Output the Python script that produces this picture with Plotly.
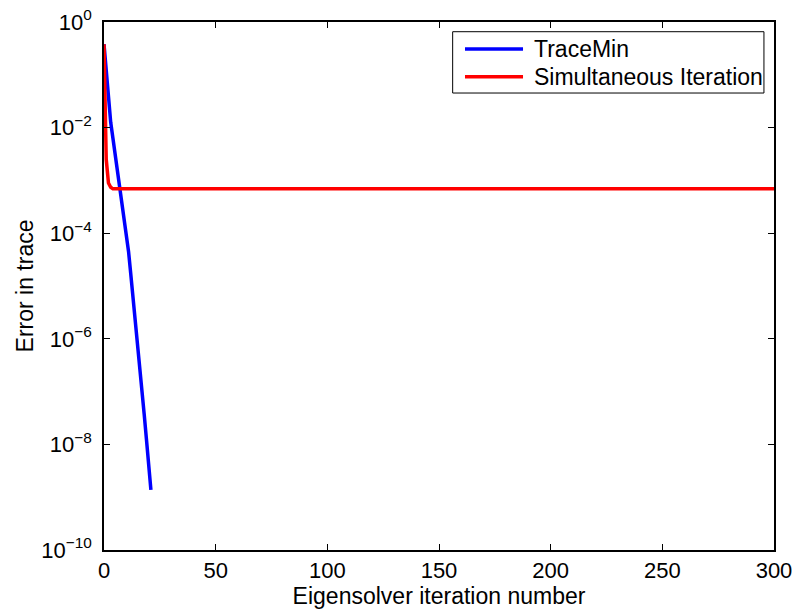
import numpy as np
import plotly.graph_objects as go

# Iteration numbers and errors
tracemin_iter = list(range(0, 22))
tracemin_log_err = [-0.42, -0.9, -1.5, -1.9, -2.2, -2.5, -2.8, -3.1, -3.4, -3.65,
                    -3.95, -4.35, -4.78, -5.2, -5.62, -6.04, -6.47, -6.95, -7.43,
                    -7.9, -8.4, -8.86]
tracemin_err = [10 ** v for v in tracemin_log_err]

simit_iter = list(range(0, 301))
simit_log_head = [-0.42, -2.6, -3.05, -3.13]
simit_plateau = -3.16
simit_err = [10 ** v for v in simit_log_head] + [10 ** simit_plateau] * (301 - len(simit_log_head))

series_names = ["TraceMin", "Simultaneous Iteration"]
series_colors = ["#0000ff", "#ff0000"]

x_ticks = [0, 50, 100, 150, 200, 250, 300]
y_ticks = [1e0, 1e-2, 1e-4, 1e-6, 1e-8, 1e-10]
y_ticktext = ["10<sup>0</sup>", "10<sup>−2</sup>", "10<sup>−4</sup>",
              "10<sup>−6</sup>", "10<sup>−8</sup>", "10<sup>−10</sup>"]

FONT = "Liberation Sans, Arial, Helvetica, sans-serif"

fig = go.Figure()
fig.add_trace(go.Scatter(x=tracemin_iter, y=tracemin_err, mode="lines",
                         name=series_names[0], line=dict(color=series_colors[0], width=3.5)))
fig.add_trace(go.Scatter(x=simit_iter, y=simit_err, mode="lines",
                         name=series_names[1], line=dict(color=series_colors[1], width=3.5)))

# Legend box drawn manually (MATLAB-style compact legend)
fig.add_shape(type="rect", xref="paper", yref="paper",
              x0=0.5204, x1=0.985, y0=0.8655, y1=0.9816,
              line=dict(color="black", width=1), fillcolor="white", layer="above")
legend_rows = [0.9489, 0.8964]
for name, color, yrow in zip(series_names, series_colors, legend_rows):
    fig.add_shape(type="line", xref="paper", yref="paper",
                  x0=0.5388, x1=0.6254, y0=yrow, y1=yrow,
                  line=dict(color=color, width=3.5), layer="above")
    fig.add_annotation(xref="paper", yref="paper", x=0.6384, y=yrow,
                       xanchor="left", yanchor="middle", showarrow=False,
                       text=name, font=dict(family=FONT, size=23, color="black"))

fig.update_layout(
    width=797, height=611,
    margin=dict(l=104, r=23, t=22, b=61),
    paper_bgcolor="white", plot_bgcolor="white",
    font=dict(family=FONT, size=22, color="black"),
    showlegend=False,
)
fig.update_xaxes(
    range=[0, 300], tickvals=x_ticks, ticks="inside", ticklen=6, tickcolor="black",
    showline=True, linecolor="black", linewidth=1.5, mirror="ticks",
    showgrid=False, zeroline=False, automargin=False,
    title=dict(text="Eigensolver iteration number", font=dict(size=23), standoff=0),
    tickfont=dict(size=22), ticklabelstandoff=0,
)
fig.update_yaxes(
    type="log", range=[-10, 0], tickvals=y_ticks, ticktext=y_ticktext,
    ticks="inside", ticklen=6, tickcolor="black",
    showline=True, linecolor="black", linewidth=1.5, mirror="ticks",
    showgrid=False, zeroline=False, automargin=False,
    title=dict(text="Error in trace", font=dict(size=23), standoff=1),
    tickfont=dict(size=22), ticklabelstandoff=6,
)

fig.write_html("out.html", config={"displayModeBar": False},
               post_script="document.body.style.margin='0';")
